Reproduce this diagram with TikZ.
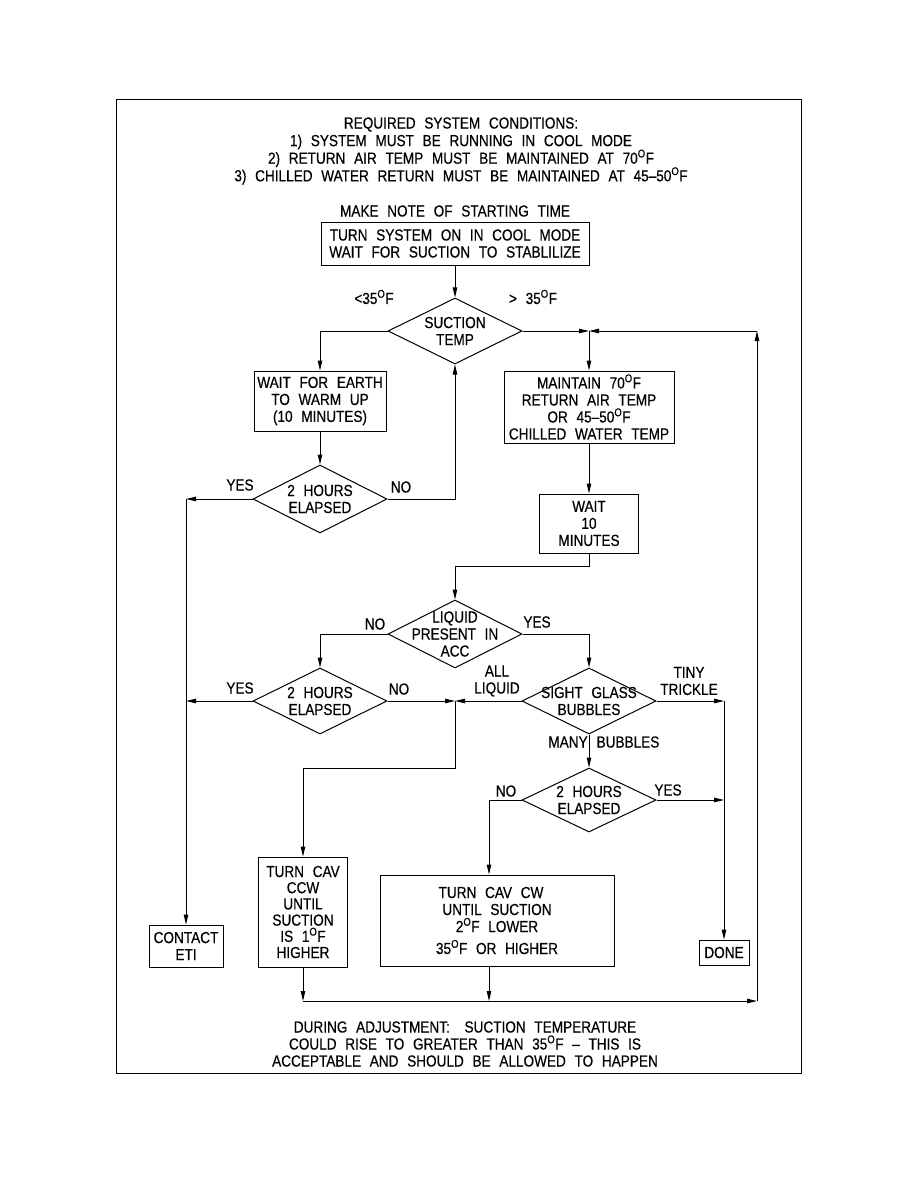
\documentclass[tikz,border=0pt]{standalone}
\usepackage{fontspec}
\setmainfont{Liberation Sans}[FakeStretch=0.85, WordSpace=2.3, FakeBold=0.4]
\usetikzlibrary{arrows.meta,shapes.geometric,calc}
\newcommand{\dF}{\textsuperscript{O}F}
\tikzset{
  txt/.style={font=\fontsize{16}{17}\selectfont, align=center, inner sep=0pt},
  box/.style={txt, draw, line width=1pt, inner sep=0pt},
  dia/.style={diamond, draw, line width=1pt, inner sep=0pt, minimum width=134pt, minimum height=66pt},
  arr/.style={-{Triangle[length=10pt,width=4.5pt]}, line width=1pt},
}

\begin{document}
\begin{tikzpicture}[x=1pt,y=-1pt]
\useasboundingbox (0,0) rectangle (918,1188);
\draw[line width=1pt] (116,100) rectangle (801,1073);

% header
\node[txt, font=\fontsize{16}{17.6}\selectfont] (cond) at (461,151)
  {REQUIRED SYSTEM CONDITIONS:\\
   1) SYSTEM MUST BE RUNNING IN COOL MODE\\
   2) RETURN AIR TEMP MUST BE MAINTAINED AT 70\dF\\
   3) CHILLED WATER RETURN MUST BE MAINTAINED AT 45--50\dF};
\node[txt] (note) at (455,211) {MAKE NOTE OF STARTING TIME};

% boxes
\node[box, minimum width=268pt, minimum height=43pt] (turn) at (455,243.5)
  {TURN SYSTEM ON IN COOL MODE\\WAIT FOR SUCTION TO STABLILIZE};
\node[box, minimum width=132pt, minimum height=60pt] (earth) at (320,401)
  {WAIT FOR EARTH\\TO WARM UP\\(10 MINUTES)};
\node[box, minimum width=170pt, minimum height=72pt] (maint) at (589,407)
  {MAINTAIN 70\dF\\RETURN AIR TEMP\\OR 45--50\dF\\CHILLED WATER TEMP};
\node[box, minimum width=99pt, minimum height=59pt] (wait) at (589,523.5)
  {WAIT\\10\\MINUTES};
\node[box, minimum width=74pt, minimum height=42pt] (contact) at (186,946)
  {CONTACT\\ETI};
\node[box, minimum width=89pt, minimum height=110pt, font=\fontsize{16}{16.2}\selectfont] (ccw) at (303,912)
  {TURN CAV\\CCW\\UNTIL\\SUCTION\\IS 1\dF\\HIGHER};
\node[box, minimum width=234pt, minimum height=91pt] (cw) at (497,920.5)
  {TURN CAV CW\hspace*{12pt}\\UNTIL SUCTION\hspace*{10pt}\\2\dF\ LOWER\\[5pt]35\dF\ OR HIGHER};
\node[box, minimum width=50pt, minimum height=25pt] (done) at (724,952.5) {DONE};

% decisions
\node[dia] (suct) at (455,331) {};
\node[txt] (suctT) at (suct) {SUCTION\\TEMP};
\node[dia, minimum height=68pt] (hrs1) at (320,499) {};
\node[txt] (hrs1T) at (hrs1) {2 HOURS\\ELAPSED};
\node[dia, minimum height=68pt] (liq) at (455,634) {};
\node[txt] (liqT) at (liq) {LIQUID\\PRESENT IN\\ACC};
\node[dia] (hrs2) at (320,701) {};
\node[txt] (hrs2T) at (hrs2) {2 HOURS\\ELAPSED};
\node[dia] (sight) at (589,701) {};
\node[txt] (sightT) at (sight) {SIGHT GLASS\\BUBBLES};
\node[dia, minimum height=64pt] (hrs3) at (589,800) {};
\node[txt] (hrs3T) at (hrs3) {2 HOURS\\ELAPSED};

% junctions
\coordinate (jn1) at (589,331);
\coordinate (jr) at (757,331);
\coordinate (jb) at (757,1001);
\coordinate (jy1) at (186,499);
\coordinate (jy2) at (186,701);
\coordinate (jn2) at (455,701);
\coordinate (jt1) at (724,701);
\coordinate (jt2) at (724,800);
\coordinate (jcw) at (489,800);

% branch labels
\node[txt] (lo) at (374,297) {<35\dF};
\node[txt] (hi) at (533,297) {> 35\dF};
\node[txt] (y1) at (240,485) {YES};
\node[txt] (n1) at (401,487) {NO};
\node[txt] (n2) at (375,624) {NO};
\node[txt] (y2) at (537,622) {YES};
\node[txt] (y3) at (240,688) {YES};
\node[txt] (n3) at (399,689) {NO};
\node[txt] (allq) at (497,681) {ALL\\LIQUID};
\node[txt] (tiny) at (689,681) {TINY\\TRICKLE};
\node[txt] (many) at (568,742) {MANY};
\node[txt] (bubl) at (628,742) {BUBBLES};
\node[txt] (n4) at (506,791) {NO};
\node[txt] (y4) at (668,790) {YES};

% connectors
\draw[arr] (turn) -- (suct);
\draw[arr] (suct.west) -| (earth.north);
\draw[arr] (earth) -- (hrs1);
\draw[arr] (hrs1.east) -| (suct.south);
\draw[arr] (hrs1.west) -- (jy1);
\draw[arr] (jy1) -- (contact.north);
\draw[arr] (suct.east) -- (jn1);
\draw[arr] (jn1) -- (maint.north);
\draw[arr] (maint) -- (wait);
\draw[arr] (wait.south) -- ++(0,13) -| (liq.north);
\draw[arr] (liq.west) -| (hrs2.north);
\draw[arr] (liq.east) -| (sight.north);
\draw[arr] (hrs2.west) -- (jy2);
\draw[arr] (hrs2.east) -- (jn2);
\draw[arr] (sight.west) -- (jn2);
\draw[arr] (jn2) -- ++(0,67) -| (ccw.north);
\draw[arr] (sight.east) -- (jt1);
\draw[arr] (jt1) -- (done.north);
\draw[arr] (sight.south) -- (hrs3.north);
\draw[arr] (hrs3.west) -- (jcw) -- (jcw |- cw.north);
\draw[arr] (hrs3.east) -- (jt2);
\draw[arr] (ccw.south) -- (ccw.south |- jb);
\draw[arr] (jcw |- cw.south) -- (jcw |- jb);
\draw[arr] (ccw.south |- jb) -- (jb);
\draw[arr] (jb) -- (jr);
\draw[arr] (jr) -- (jn1);

% note
\node[txt] (adj) at (465,1044)
  {DURING ADJUSTMENT:\hspace{6pt} SUCTION TEMPERATURE\\
   COULD RISE TO GREATER THAN 35\dF\ -- THIS IS\\
   ACCEPTABLE AND SHOULD BE ALLOWED TO HAPPEN};
\end{tikzpicture}
\end{document}
